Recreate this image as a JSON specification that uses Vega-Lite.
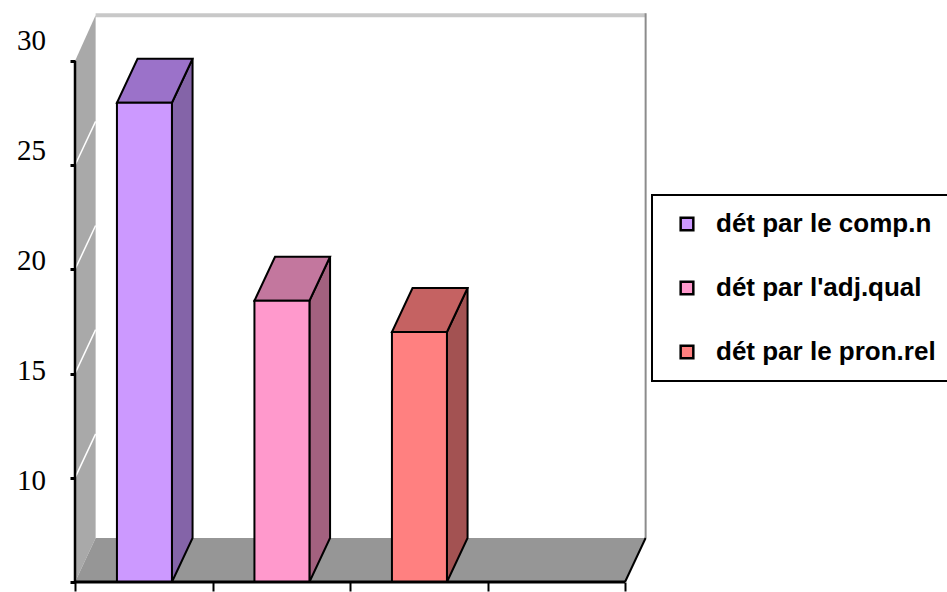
{
  "$schema": "https://vega.github.io/schema/vega-lite/v6.json",
  "width": 577.5,
  "height": 573,
  "autosize": {"type": "none"},
  "padding": {"left": 75, "top": 9, "right": 294.5, "bottom": 10},
  "background": "white",
  "config": {"view": {"stroke": null}, "legend": {"strokeWidth": 2}},
  "datasets": {
    "bars": [
      {"category": "dét par le comp.n", "value": 28},
      {"category": "dét par l'adj.qual", "value": 18.5},
      {"category": "dét par le pron.rel", "value": 17}
    ],
    "corners": [{"t": 0}, {"t": 1}],
    "wallTicks": [{"g": 10}, {"g": 15}, {"g": 20}, {"g": 25}],
    "axisLabels": [{"g": 10}, {"g": 15}, {"g": 20}, {"g": 25}, {"g": 30}],
    "one": [{"k": 1}]
  },
  "layer": [
    {
      "data": {"name": "one"},
      "mark": {"type": "rect", "fill": "white"},
      "encoding": {
        "x": {"datum": 0.15, "type": "quantitative", "scale": {"domain": [0, 4.2], "nice": false, "zero": false},
          "axis": {"values": [0, 1, 2, 3, 4], "title": null, "domain": false, "grid": false, "labels": false, "ticks": true, "tickColor": "black", "tickWidth": 2, "tickSize": 9, "zindex": 1}},
        "x2": {"datum": 4.15},
        "y": {"datum": 7.11, "type": "quantitative", "scale": {"domain": [5, 32.5], "nice": false, "zero": false},
          "axis": {"values": [5, 10, 15, 20, 25, 30], "title": null, "domain": false, "grid": false, "labels": false, "ticks": true, "tickColor": "black", "tickWidth": 3, "tickSize": 5, "zindex": 1}},
        "y2": {"datum": 32.2}
      }
    },
    {
      "data": {"name": "one"},
      "mark": {"type": "rule", "stroke": "#c8c8c8", "strokeWidth": 4},
      "encoding": {
        "x": {"datum": 0.15, "type": "quantitative", "scale": {"domain": [0, 4.2], "nice": false, "zero": false},
          "axis": {"values": [0, 1, 2, 3, 4], "title": null, "domain": false, "grid": false, "labels": false, "ticks": true, "tickColor": "black", "tickWidth": 2, "tickSize": 9, "zindex": 1}},
        "x2": {"datum": 4.15},
        "y": {"datum": 32.2, "type": "quantitative", "scale": {"domain": [5, 32.5], "nice": false, "zero": false},
          "axis": {"values": [5, 10, 15, 20, 25, 30], "title": null, "domain": false, "grid": false, "labels": false, "ticks": true, "tickColor": "black", "tickWidth": 3, "tickSize": 5, "zindex": 1}}
      }
    },
    {
      "data": {"name": "one"},
      "mark": {"type": "rule", "stroke": "#8c8c8c", "strokeWidth": 2},
      "encoding": {
        "x": {"datum": 4.15, "type": "quantitative", "scale": {"domain": [0, 4.2], "nice": false, "zero": false},
          "axis": {"values": [0, 1, 2, 3, 4], "title": null, "domain": false, "grid": false, "labels": false, "ticks": true, "tickColor": "black", "tickWidth": 2, "tickSize": 9, "zindex": 1}},
        "y": {"datum": 7.11, "type": "quantitative", "scale": {"domain": [5, 32.5], "nice": false, "zero": false},
          "axis": {"values": [5, 10, 15, 20, 25, 30], "title": null, "domain": false, "grid": false, "labels": false, "ticks": true, "tickColor": "black", "tickWidth": 3, "tickSize": 5, "zindex": 1}},
        "y2": {"datum": 32.3}
      }
    },
    {
      "data": {"name": "corners"},
      "transform": [
        {"calculate": "datum.t * 0.15", "as": "wx"},
        {"calculate": "30 + datum.t * 2.2", "as": "wy"},
        {"calculate": "5 + datum.t * 2.11", "as": "wy2"}
      ],
      "mark": {"type": "area", "orient": "vertical", "fill": "#a9a9a9"},
      "encoding": {
        "x": {"field": "wx", "type": "quantitative", "scale": {"domain": [0, 4.2], "nice": false, "zero": false},
          "axis": {"values": [0, 1, 2, 3, 4], "title": null, "domain": false, "grid": false, "labels": false, "ticks": true, "tickColor": "black", "tickWidth": 2, "tickSize": 9, "zindex": 1}},
        "y": {"field": "wy", "type": "quantitative", "scale": {"domain": [5, 32.5], "nice": false, "zero": false},
          "axis": {"values": [5, 10, 15, 20, 25, 30], "title": null, "domain": false, "grid": false, "labels": false, "ticks": true, "tickColor": "black", "tickWidth": 3, "tickSize": 5, "zindex": 1}},
        "y2": {"field": "wy2"}
      }
    },
    {
      "data": {"name": "wallTicks"},
      "transform": [{"calculate": "datum.g + 2.11", "as": "g2"}],
      "mark": {"type": "rule", "stroke": "white", "strokeWidth": 1.5},
      "encoding": {
        "x": {"datum": 0, "type": "quantitative", "scale": {"domain": [0, 4.2], "nice": false, "zero": false},
          "axis": {"values": [0, 1, 2, 3, 4], "title": null, "domain": false, "grid": false, "labels": false, "ticks": true, "tickColor": "black", "tickWidth": 2, "tickSize": 9, "zindex": 1}},
        "x2": {"datum": 0.15},
        "y": {"field": "g", "type": "quantitative", "scale": {"domain": [5, 32.5], "nice": false, "zero": false},
          "axis": {"values": [5, 10, 15, 20, 25, 30], "title": null, "domain": false, "grid": false, "labels": false, "ticks": true, "tickColor": "black", "tickWidth": 3, "tickSize": 5, "zindex": 1}},
        "y2": {"field": "g2"}
      }
    },
    {
      "data": {"name": "corners"},
      "transform": [
        {"calculate": "5 + datum.t * 2.11", "as": "fy"},
        {"calculate": "datum.t * 0.15", "as": "fx"},
        {"calculate": "4 + datum.t * 0.15", "as": "fx2"}
      ],
      "mark": {"type": "area", "orient": "horizontal", "fill": "#969696"},
      "encoding": {
        "y": {"field": "fy", "type": "quantitative", "scale": {"domain": [5, 32.5], "nice": false, "zero": false},
          "axis": {"values": [5, 10, 15, 20, 25, 30], "title": null, "domain": false, "grid": false, "labels": false, "ticks": true, "tickColor": "black", "tickWidth": 3, "tickSize": 5, "zindex": 1}},
        "x": {"field": "fx", "type": "quantitative", "scale": {"domain": [0, 4.2], "nice": false, "zero": false},
          "axis": {"values": [0, 1, 2, 3, 4], "title": null, "domain": false, "grid": false, "labels": false, "ticks": true, "tickColor": "black", "tickWidth": 2, "tickSize": 9, "zindex": 1}},
        "x2": {"field": "fx2"}
      }
    },
    {
      "data": {"name": "one"},
      "mark": {"type": "rule", "stroke": "black", "strokeWidth": 2},
      "encoding": {
        "x": {"datum": 4, "type": "quantitative", "scale": {"domain": [0, 4.2], "nice": false, "zero": false},
          "axis": {"values": [0, 1, 2, 3, 4], "title": null, "domain": false, "grid": false, "labels": false, "ticks": true, "tickColor": "black", "tickWidth": 2, "tickSize": 9, "zindex": 1}},
        "x2": {"datum": 4.15},
        "y": {"datum": 5, "type": "quantitative", "scale": {"domain": [5, 32.5], "nice": false, "zero": false},
          "axis": {"values": [5, 10, 15, 20, 25, 30], "title": null, "domain": false, "grid": false, "labels": false, "ticks": true, "tickColor": "black", "tickWidth": 3, "tickSize": 5, "zindex": 1}},
        "y2": {"datum": 7.11}
      }
    },
    {
      "data": {"name": "bars"},
      "transform": [
        {"window": [{"op": "row_number", "as": "rn"}]},
        {"calculate": "datum.rn - 1", "as": "i"},
        {"calculate": "0", "as": "z0"},
        {"calculate": "1", "as": "z1"},
        {"fold": ["z0", "z1"], "as": ["corner", "t"]},
        {"calculate": "datum.i + 0.705 + datum.t * 0.15", "as": "sx"},
        {"calculate": "datum.value + datum.t * 2.11", "as": "sy"},
        {"calculate": "5 + datum.t * 2.11", "as": "sy2"}
      ],
      "mark": {"type": "area", "orient": "vertical", "stroke": "black", "strokeWidth": 2, "strokeJoin": "miter"},
      "encoding": {
        "x": {"field": "sx", "type": "quantitative", "scale": {"domain": [0, 4.2], "nice": false, "zero": false},
          "axis": {"values": [0, 1, 2, 3, 4], "title": null, "domain": false, "grid": false, "labels": false, "ticks": true, "tickColor": "black", "tickWidth": 2, "tickSize": 9, "zindex": 1}},
        "y": {"field": "sy", "type": "quantitative", "scale": {"domain": [5, 32.5], "nice": false, "zero": false},
          "axis": {"values": [5, 10, 15, 20, 25, 30], "title": null, "domain": false, "grid": false, "labels": false, "ticks": true, "tickColor": "black", "tickWidth": 3, "tickSize": 5, "zindex": 1}},
        "y2": {"field": "sy2"},
        "detail": {"field": "category", "type": "nominal"},
        "fill": {"field": "category", "type": "nominal", "legend": null,
          "scale": {"domain": ["dét par le comp.n", "dét par l'adj.qual", "dét par le pron.rel"], "range": ["#8464A8", "#A3617F", "#A35252"]}}
      }
    },
    {
      "data": {"name": "bars"},
      "transform": [
        {"window": [{"op": "row_number", "as": "rn"}]},
        {"calculate": "datum.rn - 1", "as": "i"},
        {"calculate": "0", "as": "z0"},
        {"calculate": "1", "as": "z1"},
        {"fold": ["z0", "z1"], "as": ["corner", "t"]},
        {"calculate": "datum.value + datum.t * 2.11", "as": "ty"},
        {"calculate": "datum.i + 0.305 + datum.t * 0.15", "as": "tx"},
        {"calculate": "datum.i + 0.705 + datum.t * 0.15", "as": "tx2"}
      ],
      "mark": {"type": "area", "orient": "horizontal", "stroke": "black", "strokeWidth": 2, "strokeJoin": "miter"},
      "encoding": {
        "y": {"field": "ty", "type": "quantitative", "scale": {"domain": [5, 32.5], "nice": false, "zero": false},
          "axis": {"values": [5, 10, 15, 20, 25, 30], "title": null, "domain": false, "grid": false, "labels": false, "ticks": true, "tickColor": "black", "tickWidth": 3, "tickSize": 5, "zindex": 1}},
        "x": {"field": "tx", "type": "quantitative", "scale": {"domain": [0, 4.2], "nice": false, "zero": false},
          "axis": {"values": [0, 1, 2, 3, 4], "title": null, "domain": false, "grid": false, "labels": false, "ticks": true, "tickColor": "black", "tickWidth": 2, "tickSize": 9, "zindex": 1}},
        "x2": {"field": "tx2"},
        "detail": {"field": "category", "type": "nominal"},
        "fill": {"field": "category", "type": "nominal", "legend": null,
          "scale": {"domain": ["dét par le comp.n", "dét par l'adj.qual", "dét par le pron.rel"], "range": ["#9B72C9", "#C3779E", "#C56262"]}}
      }
    },
    {
      "data": {"name": "bars"},
      "transform": [
        {"window": [{"op": "row_number", "as": "rn"}]},
        {"calculate": "datum.rn - 1 + 0.305", "as": "bx"},
        {"calculate": "datum.rn - 1 + 0.705", "as": "bx2"}
      ],
      "mark": {"type": "rect", "stroke": "black", "strokeWidth": 2},
      "encoding": {
        "x": {"field": "bx", "type": "quantitative", "scale": {"domain": [0, 4.2], "nice": false, "zero": false},
          "axis": {"values": [0, 1, 2, 3, 4], "title": null, "domain": false, "grid": false, "labels": false, "ticks": true, "tickColor": "black", "tickWidth": 2, "tickSize": 9, "zindex": 1}},
        "x2": {"field": "bx2"},
        "y": {"field": "value", "type": "quantitative", "scale": {"domain": [5, 32.5], "nice": false, "zero": false},
          "axis": {"values": [5, 10, 15, 20, 25, 30], "title": null, "domain": false, "grid": false, "labels": false, "ticks": true, "tickColor": "black", "tickWidth": 3, "tickSize": 5, "zindex": 1}},
        "y2": {"datum": 5},
        "fill": {"field": "category", "type": "nominal",
          "scale": {"domain": ["dét par le comp.n", "dét par l'adj.qual", "dét par le pron.rel"], "range": ["#CC99FF", "#FF99CC", "#FF8080"]},
          "legend": {"orient": "none", "legendX": 577, "legendY": 186, "title": null,
            "symbolType": "square", "symbolSize": 160, "symbolStrokeColor": "black", "symbolStrokeWidth": 2.5, "symbolOpacity": 1,
            "labelFont": "Liberation Sans", "labelFontSize": 26, "labelFontWeight": "bold", "labelColor": "black", "labelLimit": 500,
            "rowPadding": 38, "padding": 16, "symbolOffset": 6, "labelOffset": 16,
            "strokeColor": "black", "fillColor": "white"}}
      }
    },
    {
      "data": {"name": "axisLabels"},
      "transform": [{"calculate": "9.85 + (datum.g - 10) * 1.055", "as": "ly"}],
      "mark": {"type": "text", "align": "right", "baseline": "middle", "dx": -29, "font": "Liberation Serif", "fontSize": 29, "color": "black"},
      "encoding": {
        "x": {"datum": 0, "type": "quantitative", "scale": {"domain": [0, 4.2], "nice": false, "zero": false},
          "axis": {"values": [0, 1, 2, 3, 4], "title": null, "domain": false, "grid": false, "labels": false, "ticks": true, "tickColor": "black", "tickWidth": 2, "tickSize": 9, "zindex": 1}},
        "y": {"field": "ly", "type": "quantitative", "scale": {"domain": [5, 32.5], "nice": false, "zero": false},
          "axis": {"values": [5, 10, 15, 20, 25, 30], "title": null, "domain": false, "grid": false, "labels": false, "ticks": true, "tickColor": "black", "tickWidth": 3, "tickSize": 5, "zindex": 1}},
        "text": {"field": "g", "type": "quantitative"}
      }
    },
    {
      "data": {"name": "one"},
      "mark": {"type": "rule", "stroke": "black", "strokeWidth": 2.5},
      "encoding": {
        "x": {"datum": 0, "type": "quantitative", "scale": {"domain": [0, 4.2], "nice": false, "zero": false},
          "axis": {"values": [0, 1, 2, 3, 4], "title": null, "domain": false, "grid": false, "labels": false, "ticks": true, "tickColor": "black", "tickWidth": 2, "tickSize": 9, "zindex": 1}},
        "y": {"datum": 5, "type": "quantitative", "scale": {"domain": [5, 32.5], "nice": false, "zero": false},
          "axis": {"values": [5, 10, 15, 20, 25, 30], "title": null, "domain": false, "grid": false, "labels": false, "ticks": true, "tickColor": "black", "tickWidth": 3, "tickSize": 5, "zindex": 1}},
        "y2": {"datum": 30}
      }
    },
    {
      "data": {"name": "one"},
      "mark": {"type": "rule", "stroke": "black", "strokeWidth": 3},
      "encoding": {
        "x": {"datum": 0, "type": "quantitative", "scale": {"domain": [0, 4.2], "nice": false, "zero": false},
          "axis": {"values": [0, 1, 2, 3, 4], "title": null, "domain": false, "grid": false, "labels": false, "ticks": true, "tickColor": "black", "tickWidth": 2, "tickSize": 9, "zindex": 1}},
        "x2": {"datum": 4},
        "y": {"datum": 5, "type": "quantitative", "scale": {"domain": [5, 32.5], "nice": false, "zero": false},
          "axis": {"values": [5, 10, 15, 20, 25, 30], "title": null, "domain": false, "grid": false, "labels": false, "ticks": true, "tickColor": "black", "tickWidth": 3, "tickSize": 5, "zindex": 1}}
      }
    }
  ],
  "resolve": {"scale": {"fill": "independent"}}
}
